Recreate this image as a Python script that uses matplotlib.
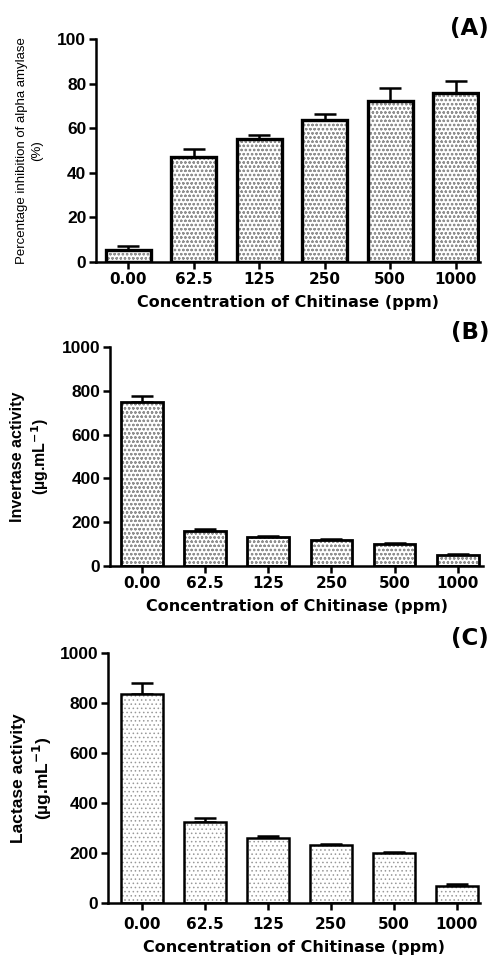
import numpy as np
import matplotlib
matplotlib.use("Agg")
import matplotlib.pyplot as plt

# data
conc_labels = ["0.00", "62.5", "125", "250", "500", "1000"]

amylase_inhib = [5.5, 47, 55, 63.5, 72, 76]
amylase_err = [1.5, 3.5, 2, 3, 6, 5]

invertase = [750, 160, 133, 120, 100, 50]
invertase_err = [28, 8, 4, 4, 4, 7]

lactase = [838, 325, 260, 232, 200, 67]
lactase_err = [42, 15, 7, 5, 5, 11]

plt.rcParams["hatch.linewidth"] = 0.6

W, H = 490, 957
fig = plt.figure(figsize=(W / 100, H / 100), dpi=100)


def axes_px(left, top, right, bottom):
    return fig.add_axes([left / W, 1 - bottom / H, (right - left) / W, (bottom - top) / H])


def panel(ax, vals, errs, ylim, xlim, width, hatch, hcol, edge_lw, ylabel, ylabel_kw, ylab_x,
          tag, tag_y, tick_pad=2, xlab_pad=6):
    x = np.arange(len(vals))
    # hatch layer first (grey), outline on top
    ax.bar(x, vals, width=width, color="white", edgecolor=hcol, hatch=hatch, linewidth=0, zorder=2)
    ax.errorbar(x, vals, yerr=[np.zeros(len(errs)), errs], fmt="none", ecolor="black",
                elinewidth=1.8, capsize=8, capthick=1.8, zorder=1)
    ax.bar(x, vals, width=width, color="none", edgecolor="black", linewidth=edge_lw, zorder=3)
    ax.set_xlim(*xlim)
    ax.set_ylim(*ylim)
    ax.set_yticks(np.linspace(ylim[0], ylim[1], 6))
    ax.set_xticks(x)
    ax.set_xticklabels(conc_labels, fontfamily="DejaVu Sans", fontweight="bold", fontsize=11)
    for lab in ax.get_yticklabels():
        lab.set_fontfamily("Liberation Sans")
        lab.set_fontweight("bold")
        lab.set_fontsize(12.5)
    for s in ["top", "right"]:
        ax.spines[s].set_visible(False)
    for s in ["left", "bottom"]:
        ax.spines[s].set_linewidth(1.8)
    ax.tick_params(axis="y", direction="out", length=5, width=1.8, pad=2)
    ax.tick_params(axis="x", direction="out", length=5, width=1.8, pad=tick_pad)
    ax.set_xlabel("Concentration of Chitinase (ppm)", fontfamily="DejaVu Sans",
                  fontweight="bold", fontsize=11.5, labelpad=xlab_pad)
    ax.set_ylabel(ylabel, **ylabel_kw)
    ax.yaxis.set_label_coords(ylab_x, 0.5)
    fig.text(489 / W, 1 - tag_y / H, tag, ha="right", va="center",
             fontfamily="DejaVu Sans", fontweight="bold", fontsize=16.5)


axA = axes_px(96, 39, 480, 262)
panel(axA, amylase_inhib, amylase_err, (0, 100), (-0.49, 5.37), 0.69,
      "oooo", "#909090", 2.4,
      "Percentage inhibition of alpha amylase\n(%)",
      dict(fontfamily="Liberation Sans", fontsize=9.5, linespacing=1.3),
      (43 - 96) / 384, "(A)", 29)

axB = axes_px(110, 347, 483, 566)
panel(axB, invertase, invertase_err, (0, 1000), (-0.506, 5.40), 0.66,
      "oooo", "#909090", 2.0,
      "Invertase activity\n(µg.mL$^{\\mathbf{-1}}$)",
      dict(fontfamily="Liberation Sans", fontweight="bold", fontsize=11.5, linespacing=1.25),
      (51 - 110) / 373, "(B)", 333)

axC = axes_px(108, 653, 480, 903)
panel(axC, lactase, lactase_err, (0, 1000), (-0.54, 5.37), 0.67,
      "....", "#999999", 1.8,
      "Lactase activity\n(µg.mL$^{\\mathbf{-1}}$)",
      dict(fontfamily="Liberation Sans", fontweight="bold", fontsize=12.5, linespacing=1.25),
      (54 - 108) / 372, "(C)", 638, tick_pad=5, xlab_pad=6)

fig.savefig("out.png", dpi=100)
